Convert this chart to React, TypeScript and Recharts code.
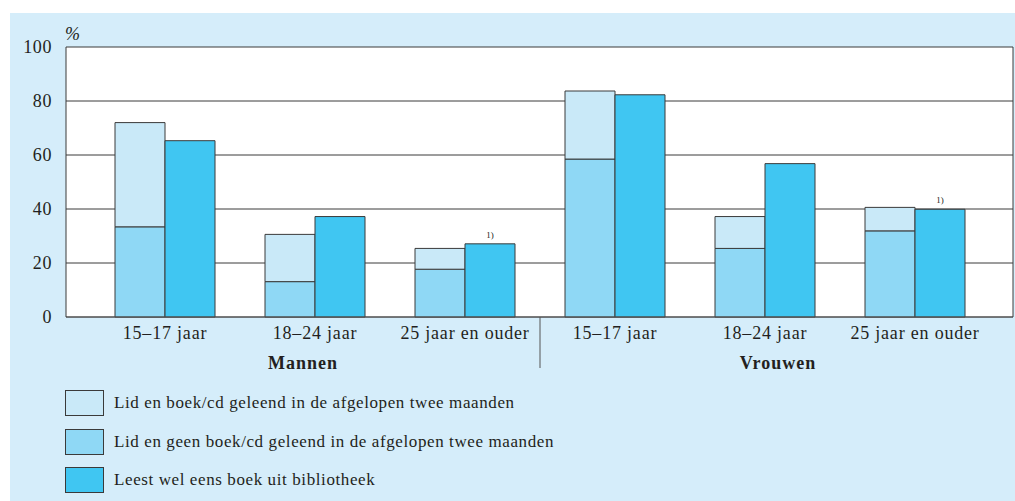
import React from 'react';
import { BarChart, Bar, XAxis, YAxis, CartesianGrid, LabelList } from 'recharts';

// ---- data ----
const categories = ['15–17 jaar', '18–24 jaar', '25 jaar en ouder', '15–17 jaar', '18–24 jaar', '25 jaar en ouder'];
const groups = ['Mannen', 'Mannen', 'Mannen', 'Vrouwen', 'Vrouwen', 'Vrouwen'];
// lower part of the stacked bar: member, no book/cd borrowed
const lidGeenGeleend = [33.4, 13.1, 17.7, 58.5, 25.4, 31.9];
// upper part of the stacked bar: member and book/cd borrowed
const lidGeleend = [38.6, 17.5, 7.7, 25.2, 11.8, 8.7];
// separate bar: sometimes reads a library book
const leestBibliotheek = [65.3, 37.2, 27.1, 82.3, 56.8, 39.9];
const notes = ['', '', '1)', '', '', '1)'];
const yTicks = [0, 20, 40, 60, 80, 100];

const seriesNames = {
  geleend: 'Lid en boek/cd geleend in de afgelopen twee maanden',
  geen: 'Lid en geen boek/cd geleend in de afgelopen twee maanden',
  leest: 'Leest wel eens boek uit bibliotheek',
};

const COLORS = {
  geleend: '#c9e9f8',
  geen: '#8fd8f5',
  leest: '#40c6f2',
};

const legendOrder: Array<keyof typeof seriesNames> = ['geleend', 'geen', 'leest'];

const data = categories.map((c, i) => ({
  key: `${groups[i]}-${c}`,
  cat: c,
  group: groups[i],
  geen: lidGeenGeleend[i],
  geleend: lidGeleend[i],
  leest: leestBibliotheek[i],
  note: notes[i],
}));

const FONT = '"Liberation Serif", "DejaVu Serif", serif';
const TEXT = '#231f20';
const LINE = '#3a3a3a';

const XTick = (props: any) => {
  const { x, y, payload } = props;
  const i = payload.index;
  const off = payload.offset || 0;
  return (
    <g>
      <text x={x} y={y + 22} textAnchor="middle" fontSize={18} letterSpacing={0.8} fill={TEXT} fontFamily={FONT}>
        {categories[i]}
      </text>
      {i === 1 && (
        <text x={x - 12} y={y + 52} textAnchor="middle" fontSize={18} letterSpacing={1} fontWeight="bold" fill={TEXT} fontFamily={FONT}>
          {groups[i]}
        </text>
      )}
      {i === 4 && (
        <text x={x + 13} y={y + 52} textAnchor="middle" fontSize={18} letterSpacing={1} fontWeight="bold" fill={TEXT} fontFamily={FONT}>
          {groups[i]}
        </text>
      )}
      {i === 2 && <line x1={x + off} x2={x + off} y1={y} y2={y + 51} stroke="#555" strokeWidth={1} />}
    </g>
  );
};

const NoteLabel = (props: any) => {
  const { x, y, width, value } = props;
  if (!value) return null;
  return (
    <text x={x + width / 2} y={y - 6} textAnchor="middle" fontSize={9} fill={TEXT} fontFamily={FONT}>
      {value}
    </text>
  );
};

const PercentLabel = (props: any) => {
  const { viewBox } = props;
  const vx = viewBox.x + viewBox.width;
  const vy = viewBox.y;
  return (
    <text x={vx - 1} y={vy - 7} fontSize={18} fontStyle="italic" fill={TEXT} fontFamily={FONT}>
      %
    </text>
  );
};

export default function App() {
  return (
    <div
      style={{
        position: 'fixed',
        left: 10,
        top: 13,
        width: 1005,
        height: 488,
        background: '#d5edfa',
        fontFamily: FONT,
      }}
    >
      <BarChart
        width={1005}
        height={488}
        data={data}
        margin={{ top: 34, right: 1, left: 0, bottom: 124 }}
        barSize={50}
        barGap={0}
      >
        <CartesianGrid vertical={false} stroke={LINE} strokeOpacity={1} fill="#ffffff" fillOpacity={1} />
        <XAxis
          dataKey="key"
          xAxisId={0}
          interval={0}
          height={60}
          padding={{ left: 24, right: 23 }}
          axisLine={{ stroke: '#555' }}
          tickLine={false}
          tickSize={0}
          tickMargin={0}
          tick={<XTick />}
        />
        <YAxis
          yAxisId={0}
          domain={[0, 100]}
          ticks={yTicks}
          width={56}
          axisLine={{ stroke: LINE }}
          tickLine={false}
          tickSize={0}
          tickMargin={14}
          tick={{ fontSize: 18, fill: TEXT, fontFamily: FONT, letterSpacing: 0.6 }}
          label={<PercentLabel />}
        />
        <YAxis
          yAxisId="right"
          orientation="right"
          domain={[0, 100]}
          width={1}
          tick={false}
          tickLine={false}
          axisLine={{ stroke: LINE }}
        />
        <Bar dataKey="geen" stackId="lid" fill={COLORS.geen} stroke={LINE} strokeWidth={1} isAnimationActive={false} />
        <Bar dataKey="geleend" stackId="lid" fill={COLORS.geleend} stroke={LINE} strokeWidth={1} isAnimationActive={false} />
        <Bar dataKey="leest" fill={COLORS.leest} stroke={LINE} strokeWidth={1} isAnimationActive={false}>
          <LabelList dataKey="note" content={<NoteLabel />} />
        </Bar>
      </BarChart>
      {legendOrder.map((k, i) => (
        <div
          key={k}
          style={{
            position: 'absolute',
            left: 55,
            top: 377 + i * 38.5,
            height: 26,
            display: 'flex',
            alignItems: 'center',
          }}
        >
          <div
            style={{
              width: 37,
              height: 24,
              background: COLORS[k],
              border: `1px solid ${LINE}`,
            }}
          />
          <span style={{ marginLeft: 10, fontSize: 17, letterSpacing: 0.6, color: TEXT, whiteSpace: 'nowrap' }}>
            {seriesNames[k]}
          </span>
        </div>
      ))}
    </div>
  );
}
